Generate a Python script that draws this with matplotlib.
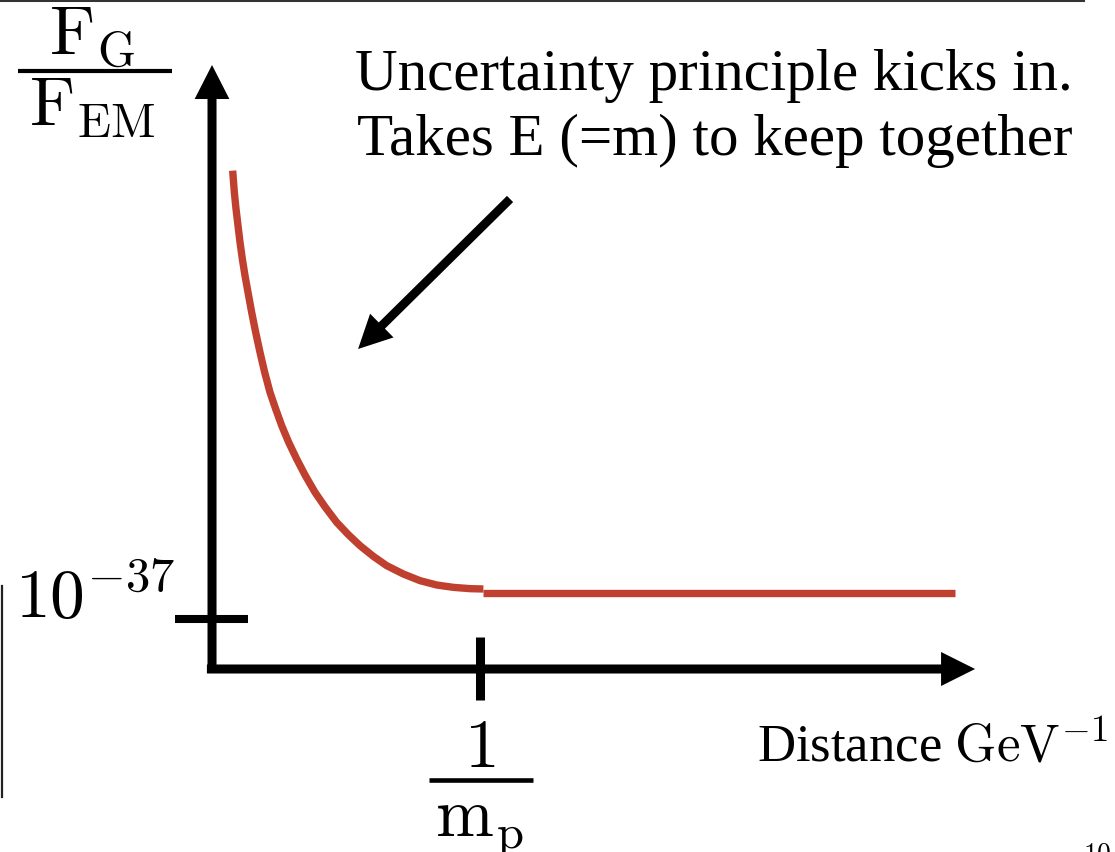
import matplotlib
matplotlib.use("Agg")
import matplotlib.pyplot as plt
from matplotlib.patches import FancyArrowPatch

plt.rcParams['font.family'] = ['Liberation Serif', 'DejaVu Serif']
plt.rcParams['mathtext.fontset'] = 'cm'

# Curve: distance in units of 1/m_p, ratio in arbitrary units (1 = 10^-37 tick)
dist_steep = [0.0771, 0.0833, 0.0896, 0.0970, 0.1045, 0.1132, 0.1231, 0.1343,
              0.1480, 0.1629, 0.1791, 0.1965, 0.2164, 0.2376, 0.2600, 0.2861,
              0.3159, 0.3483, 0.3843, 0.4229, 0.4652, 0.5087, 0.5522, 0.6020,
              0.6517, 0.7139, 0.7761, 0.8383, 0.9005, 0.9627, 1.0124]
ratio_steep = [9.967, 9.533, 9.200, 8.867, 8.533, 8.200, 7.867, 7.533,
               7.133, 6.733, 6.333, 5.933, 5.533, 5.200, 4.867, 4.533,
               4.200, 3.867, 3.533, 3.233, 2.933, 2.687, 2.467, 2.253,
               2.067, 1.900, 1.767, 1.680, 1.633, 1.607, 1.600]
dist_flat = [1.012, 2.772]
ratio_flat = [1.53, 1.53]

y_tick_label = r'$10^{-37}$'
x_tick_num, x_tick_den = r'$1$', r'$\mathrm{m_p}$'
y_num, y_den = r'$\mathrm{F_G}$', r'$\mathrm{F_{EM}}$'
x_label = r'Distance $\mathrm{GeV}^{-1}$'
note = ['Uncertainty principle kicks in.', 'Takes E (=m) to keep together']

red = '#c0402f'

fig = plt.figure(figsize=(11.15, 8.53), dpi=100)
ax = fig.add_axes([0, 0, 1, 1])
ax.set_xlim(-0.791, 3.369)
ax.set_ylim(-3.66, 13.4)
ax.axis('off')

# the curve
ax.plot(dist_steep, ratio_steep, color=red, lw=5.3, solid_capstyle='butt', solid_joinstyle='round')
ax.plot(dist_flat, ratio_flat, color=red, lw=5.3, solid_capstyle='butt')

# axes as arrows
def arrow(p0, p1, hl, hw, tw):
    a = FancyArrowPatch(p0, p1, arrowstyle=f'simple,head_length={hl},head_width={hw},tail_width={tw}',
                        mutation_scale=1, color='k', lw=0, shrinkA=0, shrinkB=0)
    ax.add_patch(a)

arrow((0, -0.08), (0, 12.08), 24.5, 25, 6.5)
arrow((-0.019, 0), (2.847, 0), 24.5, 24.5, 6.5)
arrow((1.112, 9.4), (0.545, 6.40), 24, 24, 6.3)

# ticks
ax.plot([-0.138, 0.134], [1, 1], color='k', lw=5.8, solid_capstyle='butt')
ax.plot([1.0, 1.0], [0.64, -0.62], color='k', lw=6.5, solid_capstyle='butt')

# tick labels
ax.text(-0.138, 1.04, y_tick_label, fontsize=50, ha='right', va='baseline')
ax.text(1.0, -1.94, x_tick_num, fontsize=50, ha='center', va='baseline')
ax.plot([0.810, 1.198], [-2.22, -2.22], color='k', lw=3.3, solid_capstyle='butt')
ax.text(0.996, -3.34, x_tick_den, fontsize=50, ha='center', va='baseline')

# y label as a fraction
ax.text(-0.446, 12.3, y_num, fontsize=50, ha='center', va='baseline')
ax.plot([-0.724, -0.149], [11.96, 11.96], color='k', lw=3.0, solid_capstyle='butt')
ax.text(-0.446, 10.88, y_den, fontsize=50, ha='center', va='baseline')

ax.text(2.034, -1.82, x_label, fontsize=38, ha='left', va='baseline')
ax.text(0.534, 11.6, note[0], fontsize=42.5, ha='left', va='baseline')
ax.text(0.541, 10.3, note[1], fontsize=42.5, ha='left', va='baseline')
ax.text(3.25, -3.48, r'$10$', fontsize=20, ha='left', va='top')

# slide decorations
ax.plot([0, 0.971], [0.9985, 0.9985], color='#333333', lw=2.2, transform=ax.transAxes)
ax.plot([0.0015, 0.0015], [1 - 587 / 853, 1 - 798 / 853], color='#222222', lw=1.6,
        transform=ax.transAxes)

fig.savefig('out.png', dpi=100)
